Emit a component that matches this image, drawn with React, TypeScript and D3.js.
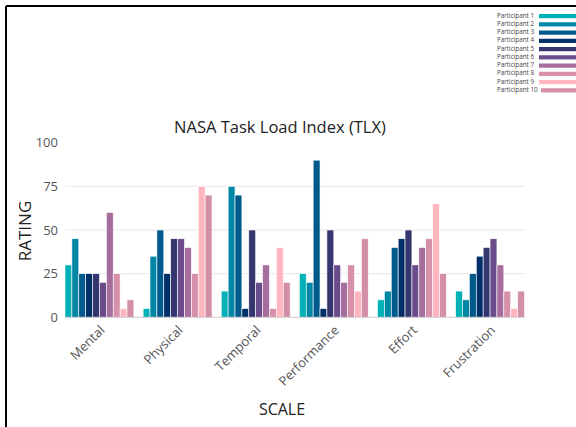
import React from "react";
import * as d3 from "d3";

const categories = ["Mental", "Physical", "Temporal", "Performance", "Effort", "Frustration"];
const participants = [
  "Participant 1", "Participant 2", "Participant 3", "Participant 4", "Participant 5",
  "Participant 6", "Participant 7", "Participant 8", "Participant 9", "Participant 10",
];
const colors = [
  "#00B2B8", "#0087A6", "#005A8C", "#00306A", "#353570",
  "#6B4C8A", "#A66E9C", "#D690AA", "#FFB6BE", "#D48FA8",
];
// values[participant][category]
const p1 = [30, 5, 15, 25, 10, 15];
const p2 = [45, 35, 75, 20, 15, 10];
const p3 = [25, 50, 70, 90, 40, 25];
const p4 = [25, 25, 5, 5, 45, 35];
const p5 = [25, 45, 50, 50, 50, 40];
const p6 = [20, 45, 20, 30, 30, 45];
const p7 = [60, 40, 30, 20, 40, 30];
const p8 = [25, 25, 5, 30, 45, 15];
const p9 = [5, 75, 40, 15, 65, 5];
const p10 = [10, 70, 20, 45, 25, 15];
const series = [p1, p2, p3, p4, p5, p6, p7, p8, p9, p10];
const yTicks = [0, 25, 50, 75, 100];

export default function App() {
  const W = 576, H = 427;
  const x0 = d3.scaleBand<string>().domain(categories).range([65, 524.5]).paddingInner(0.118).paddingOuter(0);
  const x1 = d3.scaleBand<number>().domain(d3.range(participants.length)).range([0, x0.bandwidth()]).padding(0);
  const y = d3.scaleLinear().domain([0, 100]).range([317.3, 142.7]);
  const font = "'Open Sans', 'Noto Sans', sans-serif";
  return (
    <svg width={W} height={H} style={{ position: "absolute", left: 0, top: 0, background: "#fff" }} fontFamily={font}>
      <rect x={0} y={0} width={W} height={H} fill="#fff" />
      <line x1={6} y1={6} x2={W} y2={6} stroke="#000" strokeWidth={2} />
      <line x1={6} y1={6} x2={6} y2={H} stroke="#000" strokeWidth={2} />
      {/* legend */}
      {participants.map((p, i) => (
        <g key={p}>
          <text x={497} y={17.5 + i * 8.25} fontSize={6.3} fill="#444">{p}</text>
          <rect x={i === 9 ? 541 : 539} y={14 + i * 8.25} width={40} height={4.2} fill={colors[i]} />
        </g>
      ))}
      <text x={280} y={133} textAnchor="middle" fontSize={16.5} fill="#222">NASA Task Load Index (TLX)</text>
      {/* grid */}
      {yTicks.filter(t => t > 0 && t < 100).map(t => (
        <line key={t} x1={65} x2={524.5} y1={y(t)} y2={y(t)} stroke="#e8e8e8" strokeWidth={1} />
      ))}
      {yTicks.map(t => (
        <text key={t} x={58} y={y(t) + 4.5} textAnchor="end" fontSize={13} fill="#555">{t}</text>
      ))}
      {/* bars */}
      {categories.map((c, ci) => (
        <g key={c} transform={`translate(${x0(c)},0)`}>
          {series.map((s, pi) => (
            <rect key={pi} x={x1(pi)} y={y(s[ci])} width={x1.bandwidth()} height={y(0) - y(s[ci])}
              fill={colors[pi]} stroke="#fff" strokeWidth={0.6} />
          ))}
        </g>
      ))}
      <line x1={65} x2={524.5} y1={y(0)} y2={y(0)} stroke="#ccc" strokeWidth={1} />
      {categories.map(c => {
        const cx = (x0(c) as number) + x0.bandwidth() / 2;
        return (
          <text key={c} transform={`translate(${cx + 6},${331}) rotate(-45)`} textAnchor="end" fontSize={13} fill="#555">{c}</text>
        );
      })}
      <text transform={`translate(31,231) rotate(-90)`} textAnchor="middle" fontSize={17} fill="#222">RATING</text>
      <text x={282} y={415} textAnchor="middle" fontSize={16} fill="#222">SCALE</text>
    </svg>
  );
}
